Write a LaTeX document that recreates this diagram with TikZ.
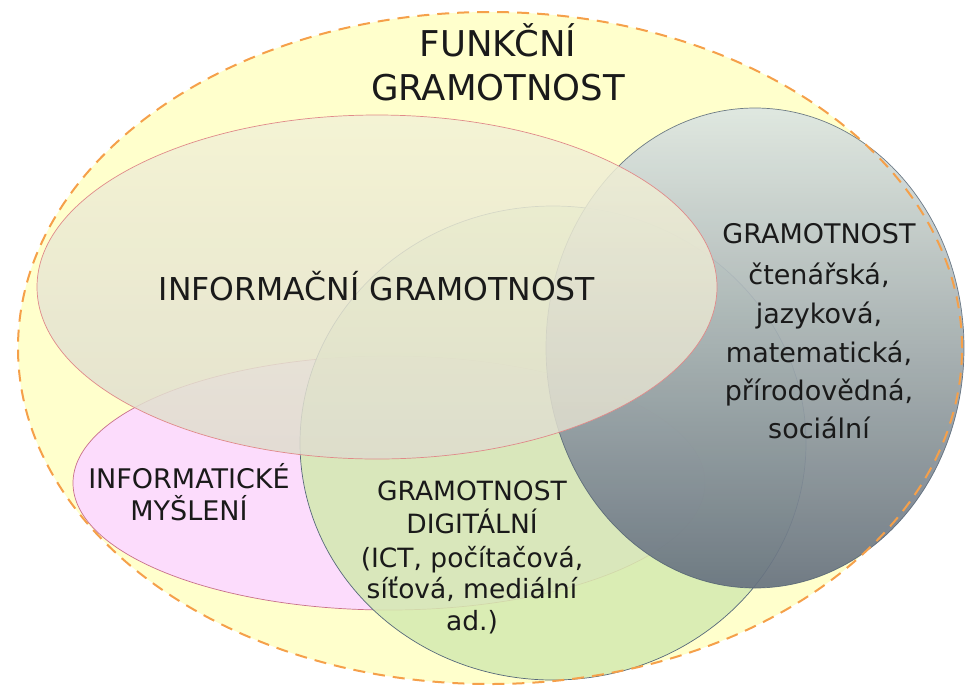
\documentclass[tikz,border=0pt]{standalone}
\usepackage{fontspec}
\setmainfont{DejaVu Sans}
\definecolor{outerfill}{HTML}{FFFFCC}
\definecolor{outerline}{HTML}{F5A04A}
\definecolor{pinkfill}{HTML}{FCDCFC}
\definecolor{pinkline}{HTML}{C8708A}
\definecolor{greenfill}{HTML}{D4EAB0}
\definecolor{greenline}{HTML}{56687A}
\definecolor{infotop}{HTML}{F3F2D6}
\definecolor{infobot}{HTML}{DEDCCE}
\definecolor{infoline}{HTML}{E08A8A}
\definecolor{slatetop}{HTML}{DDE6E2}
\definecolor{slatebot}{HTML}{66717F}
\definecolor{slateline}{HTML}{4F5F70}
\definecolor{txt}{HTML}{1A1A1A}
\begin{document}
\begin{tikzpicture}[x=1pt,y=-1pt,
  lbl/.style={inner sep=0pt, anchor=base, text=txt},
  ftitle/.style={lbl, font=\fontsize{35.5}{40}\selectfont},
  finfo/.style={lbl, font=\fontsize{31.5}{36}\selectfont},
  fsmall/.style={lbl, font=\fontsize{27}{32}\selectfont},
  fgreen/.style={lbl, font=\fontsize{26.5}{32}\selectfont}]
\useasboundingbox (0,0) rectangle (965,689);
% outer set
\fill[outerfill] (490,348) ellipse [x radius=472pt, y radius=336pt];
% pink
\draw[pinkline, line width=0.7pt, fill=pinkfill] (389,483) ellipse [x radius=316pt, y radius=127pt];
% green
\draw[greenline, line width=0.7pt, fill=greenfill, fill opacity=0.85] (553,443) ellipse [x radius=253pt, y radius=237pt];
% slate
\shade[top color=slatetop, bottom color=slatebot, opacity=0.92] (755,348) ellipse [x radius=209pt, y radius=240pt];
\draw[slateline, line width=0.7pt, draw opacity=0.8] (755,348) ellipse [x radius=209pt, y radius=240pt];
% info
\shade[top color=infotop, bottom color=infobot, opacity=0.85] (377,287) ellipse [x radius=340pt, y radius=172pt];
\draw[infoline, line width=0.7pt] (377,287) ellipse [x radius=340pt, y radius=172pt];
% outer dashed border
\draw[outerline, line width=2pt, dash pattern=on 12pt off 8pt] (490,348) ellipse [x radius=472pt, y radius=336pt];
% texts
\node[ftitle] (f1) at (498,56) {FUNKČNÍ};
\node[ftitle] (f2) at (498,100) {GRAMOTNOST};
\node[finfo] (i1) at (377,300) {INFORMAČNÍ GRAMOTNOST};
\node[fsmall] (r1) at (819,243) {GRAMOTNOST};
\node[fsmall] (r2) at (819,284) {čtenářská,};
\node[fsmall] (r3) at (819,323) {jazyková,};
\node[fsmall] (r4) at (819,362) {matematická,};
\node[fsmall] (r5) at (819,400) {přírodovědná,};
\node[fsmall] (r6) at (819,438) {sociální};
\node[fsmall] (p1) at (189,488) {INFORMATICKÉ};
\node[fsmall] (p2) at (189,520) {MYŠLENÍ};
\node[fgreen] (g1) at (472,500) {GRAMOTNOST};
\node[fgreen] (g2) at (472,533) {DIGITÁLNÍ};
\node[fgreen] (g3) at (472,567) {(ICT, počítačová,};
\node[fgreen] (g4) at (472,598) {síťová, mediální};
\node[fgreen] (g5) at (472,630) {ad.)};
\end{tikzpicture}
\end{document}
